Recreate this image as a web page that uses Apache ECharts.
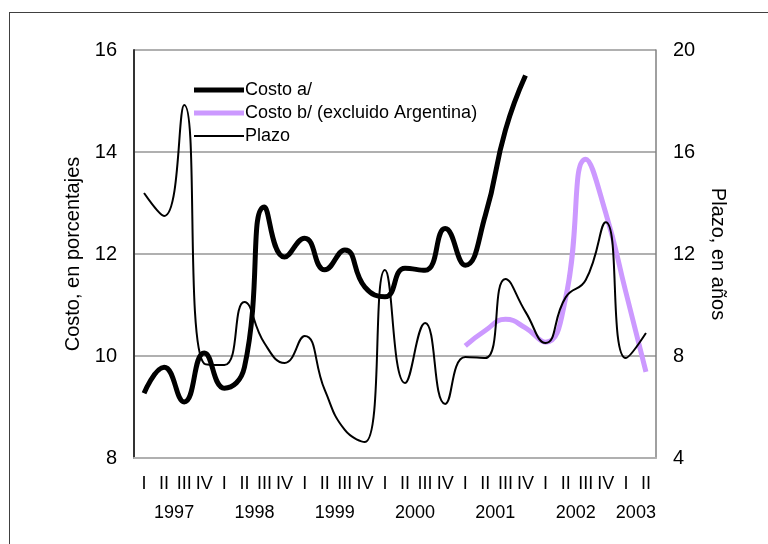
<!DOCTYPE html>
<html>
<head>
<meta charset="utf-8">
<script src="https://cdn.jsdelivr.net/npm/echarts@6/dist/echarts.min.js"></script>
<style>
  html, body { margin: 0; padding: 0; background: #fff; overflow: hidden; }
  #wrap { position: relative; width: 768px; height: 544px; }
  #chart { width: 768px; height: 544px; }
  #frame { position: absolute; left: 9px; top: 12px; width: 800px; height: 600px;
    border: 1px solid #404040; pointer-events: none; }
</style>
</head>
<body>
<div id="wrap">
  <div id="chart"></div>
  <div id="frame"></div>
</div>
<script>
  // quarters 1997 I .. 2003 II
  var quarterLabels = ['I', 'II', 'III', 'IV', 'I', 'II', 'III', 'IV', 'I', 'II', 'III', 'IV',
    'I', 'II', 'III', 'IV', 'I', 'II', 'III', 'IV', 'I', 'II', 'III', 'IV', 'I', 'II']
  var quarterYears = ['1997', '1997', '1997', '1997', '1998', '1998', '1998', '1998',
    '1999', '1999', '1999', '1999', '2000', '2000', '2000', '2000', '2001', '2001', '2001', '2001',
    '2002', '2002', '2002', '2002', '2003', '2003']

  // Costo a/ (left axis, %)
  var costoA = [9.27, 9.78, 9.1, 10.06, 9.37, 9.78, 12.92, 11.94, 12.31, 11.69, 12.08, 11.35,
    11.16, 11.72, 11.68, 12.5, 11.78, 12.76, 14.43, 15.5]
  // Costo b/ (excluido Argentina)
  var costoB = [null, null, null, null, null, null, null, null, null, null, null, null,
    null, null, null, null, 10.2, 10.5, 10.72, 10.55, 10.27, 11.14, 13.86, 12.8, 11.25, 9.69]
  // Plazo (right axis, años)
  var plazo = [14.39, 13.49, 17.84, 7.7, 7.65, 10.12, 8.5, 7.73, 8.78, 6.67, 5.1, 4.63,
    11.37, 6.94, 9.29, 6.12, 7.96, 7.92, 11.02, 9.73, 8.51, 10.3, 10.98, 13.25, 7.92, 8.9]

  // year goes under the quarter just left of the middle of its quarters
  var yearAt = {}
  var firstIdx = {}, lastIdx = {}
  quarterYears.forEach(function (y, i) {
    if (firstIdx[y] === undefined) firstIdx[y] = i
    lastIdx[y] = i
  })
  Object.keys(firstIdx).forEach(function (y) {
    yearAt[Math.floor((firstIdx[y] + lastIdx[y]) / 2)] = y
  })

  var font = "'Liberation Sans', Arial, sans-serif"
  var gridGray = '#b0b0b0'
  var chart = echarts.init(document.getElementById('chart'))

  chart.setOption({
    animation: false,
    grid: { left: 134, right: 112, top: 50, bottom: 86 },
    legend: {
      orient: 'vertical',
      left: 189,
      top: 76,
      itemWidth: 50,
      itemHeight: 14,
      itemGap: 5,
      textStyle: { fontFamily: font, fontSize: 18, color: '#000', padding: [0, 0, 0, -4] },
      data: [
        { name: 'Costo a/', icon: 'path://M0,0h50v5h-50z' },
        { name: 'Costo b/ (excluido Argentina)', icon: 'path://M0,0h50v5h-50z' },
        { name: 'Plazo', icon: 'path://M0,0h50v2h-50z' }
      ]
    },
    xAxis: {
      type: 'category',
      data: quarterLabels,
      boundaryGap: true,
      axisLine: { show: true, onZero: false, lineStyle: { color: gridGray, width: 2 } },
      axisTick: { show: true, length: 0 },
      axisLabel: {
        interval: 0,
        margin: 12,
        formatter: function (v, i) {
          var s = '{q|' + v + '}'
          if (yearAt[i]) s += '\n{y|' + yearAt[i] + '}'
          return s
        },
        rich: {
          q: { fontSize: 18, lineHeight: 29, color: '#000', fontFamily: font },
          y: { fontSize: 18, lineHeight: 29, color: '#000', fontFamily: font, padding: [0, 0, 0, 20] }
        }
      }
    },
    yAxis: [
      {
        type: 'value',
        min: 8,
        max: 16,
        interval: 2,
        name: 'Costo, en porcentajes',
        nameLocation: 'middle',
        nameGap: 50,
        nameTextStyle: { fontSize: 20, color: '#000', fontFamily: font },
        axisLine: { show: true, onZero: false, lineStyle: { color: '#333', width: 2 } },
        axisTick: { show: true, length: 0 },
        axisLabel: { fontSize: 20, color: '#000', margin: 17, fontFamily: font },
        splitLine: { show: true, lineStyle: { color: gridGray, width: 2 } }
      },
      {
        type: 'value',
        min: 4,
        max: 20,
        interval: 4,
        name: 'Plazo, en años',
        nameLocation: 'middle',
        nameGap: 52,
        nameRotate: -90,
        nameTextStyle: { fontSize: 20, color: '#000', fontFamily: font },
        axisLine: { show: true, onZero: false, lineStyle: { color: '#808080', width: 1.5 } },
        axisTick: { show: false },
        axisLabel: { fontSize: 20, color: '#000', margin: 17, fontFamily: font },
        splitLine: { show: false }
      }
    ],
    series: [
      {
        name: 'Costo a/',
        type: 'line',
        yAxisIndex: 0,
        data: costoA,
        smooth: true,
        symbol: 'none',
        lineStyle: { color: '#000', width: 5 },
        itemStyle: { color: '#000' },
        z: 3
      },
      {
        name: 'Costo b/ (excluido Argentina)',
        type: 'line',
        yAxisIndex: 0,
        data: costoB,
        smooth: true,
        symbol: 'none',
        lineStyle: { color: '#cc99ff', width: 5 },
        itemStyle: { color: '#cc99ff' },
        z: 2
      },
      {
        name: 'Plazo',
        type: 'line',
        yAxisIndex: 1,
        data: plazo,
        smooth: true,
        symbol: 'none',
        lineStyle: { color: '#000', width: 2 },
        itemStyle: { color: '#000' },
        z: 4
      }
    ]
  })
</script>
</body>
</html>
